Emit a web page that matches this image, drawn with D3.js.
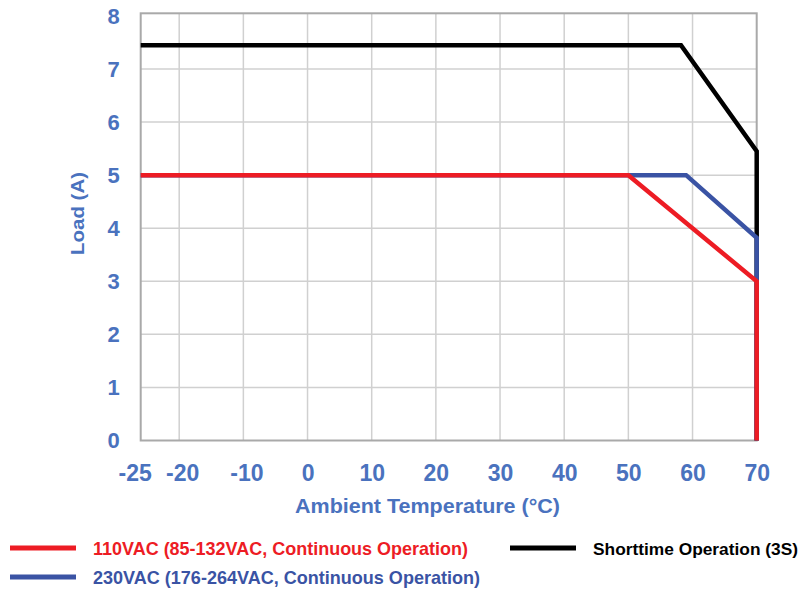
<!DOCTYPE html>
<html>
<head>
<meta charset="utf-8">
<script src="https://cdn.jsdelivr.net/npm/d3@7"></script>
<style>
  body { margin: 0; background: #fff; }
  svg { font-family: "Liberation Sans", Arial, sans-serif; }
</style>
</head>
<body>
<svg width="809" height="590"></svg>
<script>
// derating curves: [temp, load]
var red110 = [[-26, 5], [50, 5], [70, 3], [70, 0]];
var blue230 = [[-26, 5], [59, 5], [70, 3.82], [70, 0]];
var blackShort = [[-26, 7.45], [58.2, 7.45], [70, 5.45], [70, 0]];

var xTicks = [-26, -20, -10, 0, 10, 20, 30, 40, 50, 60, 70];
var xTickLabels = ["-25", "-20", "-10", "0", "10", "20", "30", "40", "50", "60", "70"];
var yTicks = [0, 1, 2, 3, 4, 5, 6, 7, 8];

var seriesNames = [
  "110VAC (85-132VAC, Continuous Operation)",
  "230VAC (176-264VAC, Continuous Operation)",
  "Shorttime Operation (3S)"
];
var seriesColors = ["#ed1c24", "#3a53a4", "#000000"];

var svg = d3.select("svg");
var labelColor = "#4a72be";

var x = d3.scaleLinear().domain([-26, 70]).range([140.7, 756.7]);
var y = d3.scaleLinear().domain([0, 8.05]).range([440.5, 13.3]);

// grid
svg.append("g")
  .selectAll("line")
  .data(xTicks.slice(1, -1))
  .enter().append("line")
    .attr("x1", function(d) { return x(d); })
    .attr("x2", function(d) { return x(d); })
    .attr("y1", y.range()[0]).attr("y2", y.range()[1])
    .attr("stroke", "#d0d0d0").attr("stroke-width", 1.5);

svg.append("g")
  .selectAll("line")
  .data(yTicks.slice(1, -1))
  .enter().append("line")
    .attr("x1", x.range()[0]).attr("x2", x.range()[1])
    .attr("y1", function(d) { return y(d); })
    .attr("y2", function(d) { return y(d); })
    .attr("stroke", "#d0d0d0").attr("stroke-width", 1.5);

// frame
svg.append("rect")
  .attr("x", x.range()[0]).attr("y", y.range()[1])
  .attr("width", x.range()[1] - x.range()[0])
  .attr("height", y.range()[0] - y.range()[1])
  .attr("fill", "none").attr("stroke", "#a9a9a9").attr("stroke-width", 2);

// axes (labels only)
var xAxis = svg.append("g")
    .attr("transform", "translate(0," + y(0) + ")")
    .call(d3.axisBottom(x).tickValues(xTicks).tickSize(0).tickPadding(0)
      .tickFormat(function(d, i) { return xTickLabels[i]; }));
xAxis.select(".domain").remove();
xAxis.selectAll("text")
    .attr("y", 40).attr("dy", 0)
    .attr("dx", function(d, i) { return i == 0 ? -6 : (xTickLabels[i].charAt(0) == "-" ? 3 : 0); })
    .attr("fill", labelColor)
    .style("font-size", "23px").style("font-weight", "bold")
    .style("font-family", "Liberation Sans, Arial, sans-serif");

var yAxis = svg.append("g")
    .attr("transform", "translate(" + x.range()[0] + ",0)")
    .call(d3.axisLeft(y).tickValues(yTicks).tickSize(0).tickPadding(21));
yAxis.select(".domain").remove();
yAxis.selectAll("text")
    .attr("fill", labelColor)
    .style("font-size", "22px").style("font-weight", "bold")
    .style("font-family", "Liberation Sans, Arial, sans-serif");

svg.append("text")
    .attr("x", 295).attr("y", 513)
    .attr("textLength", 265).attr("lengthAdjust", "spacingAndGlyphs")
    .attr("fill", labelColor)
    .style("font-size", "19.5px").style("font-weight", "bold")
    .text("Ambient Temperature (°C)");

svg.append("text")
    .attr("transform", "translate(84,255) rotate(-90)")
    .attr("textLength", 83).attr("lengthAdjust", "spacingAndGlyphs")
    .attr("fill", labelColor)
    .style("font-size", "19px").style("font-weight", "bold")
    .text("Load (A)");

// lines
var line = d3.line()
    .x(function(d) { return x(d[0]); })
    .y(function(d) { return y(d[1]); });

var series = [
  {data: blackShort, color: seriesColors[2]},
  {data: blue230, color: seriesColors[1]},
  {data: red110, color: seriesColors[0]}
];

svg.selectAll(".series")
  .data(series)
  .enter().append("path")
    .attr("class", "series")
    .attr("d", function(d) { return line(d.data); })
    .attr("fill", "none")
    .attr("stroke", function(d) { return d.color; })
    .attr("stroke-width", 4.5)
    .attr("stroke-linejoin", "miter");

// legend
var legX = [10, 10, 510];
var legY = [548, 577, 548];
var legW = [375, 387, 205];
var legFont = [18.5, 18.5, 17];

var leg = svg.selectAll(".legend")
  .data(seriesNames)
  .enter().append("g")
    .attr("class", "legend")
    .attr("transform", function(d, i) { return "translate(" + legX[i] + "," + legY[i] + ")"; });

leg.append("line")
    .attr("x1", 0).attr("x2", 66)
    .attr("stroke", function(d, i) { return seriesColors[i]; })
    .attr("stroke-width", 5);

leg.append("text")
    .attr("x", 83).attr("y", 7)
    .attr("textLength", function(d, i) { return legW[i]; })
    .attr("lengthAdjust", "spacingAndGlyphs")
    .attr("fill", function(d, i) { return seriesColors[i]; })
    .style("font-size", function(d, i) { return legFont[i] + "px"; })
    .style("font-weight", "bold")
    .text(function(d) { return d; });
</script>
</body>
</html>
